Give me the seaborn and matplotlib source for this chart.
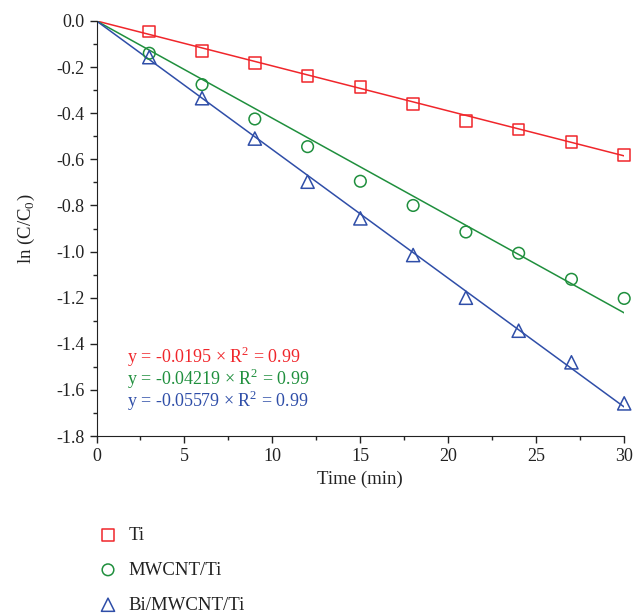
import numpy as np
import pandas as pd
import matplotlib.pyplot as plt
import seaborn as sns

time = [3, 6, 9, 12, 15, 18, 21, 24, 27, 30]
ti = [-0.046, -0.129, -0.181, -0.239, -0.286, -0.359, -0.434, -0.470, -0.526, -0.580]
mwcnt = [-0.140, -0.276, -0.425, -0.545, -0.695, -0.800, -0.915, -1.007, -1.120, -1.203]
bi_mwcnt = [-0.157, -0.335, -0.510, -0.697, -0.856, -1.015, -1.200, -1.343, -1.480, -1.658]

labels = ["Ti", "MWCNT/Ti", "Bi/MWCNT/Ti"]
slopes = [-0.0195, -0.04219, -0.05579]
slope_text = ["-0.0195", "-0.04219", "-0.05579"]
r2 = [0.99, 0.99, 0.99]
colors = ["#f0262b", "#1f8f3d", "#2f4ea8"]
markers = ["s", "o", "^"]

sns.set_style("ticks")
plt.rcParams["font.family"] = ["Liberation Serif", "DejaVu Serif"]
plt.rcParams["mathtext.fontset"] = "custom"
plt.rcParams["mathtext.rm"] = "Liberation Serif"

fig = plt.figure(figsize=(6.35, 6.16), dpi=100)
ax = fig.add_axes([0.152, 0.292, 0.831, 0.674])

series = [ti, mwcnt, bi_mwcnt]
fit_x = [0, 30]
for vals, lab, k, c, m in zip(series, labels, slopes, colors, markers):
    df = pd.DataFrame({"t": time, "v": vals})
    fit = pd.DataFrame({"t": fit_x, "v": [k * x for x in fit_x]})
    sns.lineplot(data=fit, x="t", y="v", color=c, lw=1.1, ax=ax, legend=False)
    sns.scatterplot(data=df, x="t", y="v", marker=m, s=70 if m != "^" else 90,
                    facecolor="none", edgecolor=c, linewidth=1.1, ax=ax, label=lab,
                    clip_on=False, zorder=3)

for i, (st, r, c) in enumerate(zip(slope_text, r2, colors)):
    ax.text(1.75, -1.455 - i * 0.096,
            f"y = {st} \u00d7 R$^\\mathregular{{2}}$ = {r:.2f}",
            color=c, fontsize=13, va="center", ha="left")

ax.set_xlim(0, 30)
ax.set_ylim(-1.8, 0.0)
ax.set_xticks(range(0, 31, 5))
ax.set_xticks(np.arange(2.5, 30, 5), minor=True)
ax.set_yticks(np.arange(-1.8, 0.01, 0.2))
ax.set_yticks(np.arange(-1.7, 0, 0.2), minor=True)
ax.yaxis.set_major_formatter(plt.FuncFormatter(lambda v, p: f"{v:.1f}".replace("-0.0", "0.0")))
ax.tick_params(which="major", length=5, width=1, labelsize=13, colors="#222222")
ax.tick_params(which="minor", length=3, width=1, colors="#222222")
ax.set_xlabel("Time (min)", fontsize=13.5, color="#222222", labelpad=4)
ax.set_ylabel("ln (C/C$_\\mathregular{0}$)", fontsize=13.5, color="#222222", labelpad=14)
for s in ["left", "bottom"]:
    ax.spines[s].set_color("#222222")
sns.despine(ax=ax)

leg = ax.legend(loc="upper left", bbox_to_anchor=(-0.028, -0.2), frameon=False,
                fontsize=13.5, labelspacing=0.95, handletextpad=0.1, borderaxespad=0)
for t in leg.get_texts():
    t.set_color("#222222")

plt.savefig("out.png", dpi=100)
plt.close()
